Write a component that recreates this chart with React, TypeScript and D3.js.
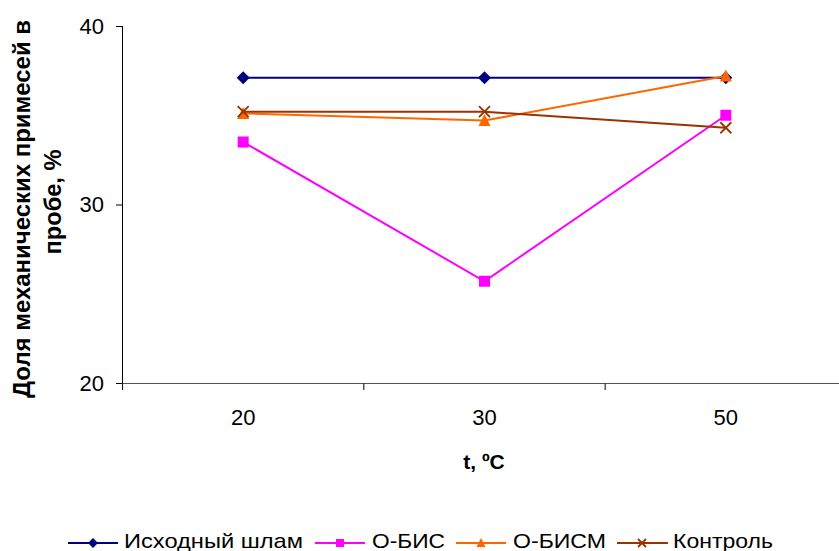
import React from "react";
import * as d3 from "d3";

const categories = ["20", "30", "50"];
const yTicks = [20, 30, 40];
const seriesNames = ["Исходный шлам", "О-БИС", "О-БИСМ", "Контроль"];
const ishodny = [37.1, 37.1, 37.1];
const obis = [33.5, 25.7, 35.0];
const obism = [35.1, 34.7, 37.2];
const kontrol = [35.2, 35.2, 34.3];
const colors = ["#000080", "#FF00FF", "#FF6600", "#993300"];
const markers = ["diamond", "square", "triangle", "x"];

const W = 839;
const H = 551;
const FONT = "Liberation Sans, Arial, sans-serif";

function Marker({ type, x, y, s, color }: { type: string; x: number; y: number; s: number; color: string }) {
  const h = s / 2;
  if (type === "diamond")
    return <path d={`M${x},${y - h - 1}L${x + h + 1},${y}L${x},${y + h + 1}L${x - h - 1},${y}Z`} fill={color} />;
  if (type === "square") return <rect x={x - h} y={y - h} width={s} height={s} fill={color} />;
  if (type === "triangle")
    return <path d={`M${x},${y - h - 1}L${x + h + 0.5},${y + h}L${x - h - 0.5},${y + h}Z`} fill={color} />;
  return (
    <path
      d={`M${x - h},${y - h}L${x + h},${y + h}M${x - h},${y + h}L${x + h},${y - h}`}
      stroke={color}
      strokeWidth={1.8}
      fill="none"
    />
  );
}

export default function App() {
  const x = d3.scaleBand<string>().domain(categories).range([122.5, 846.5]).padding(0);
  const y = d3.scaleLinear().domain([20, 40]).range([383, 26]);
  const cx = (c: string) => (x(c) as number) + x.bandwidth() / 2;
  const data = [ishodny, obis, obism, kontrol];
  const line = d3
    .line<number>()
    .x((_, i) => cx(categories[i]))
    .y((d) => y(d));

  const bounds = [...categories.map((c) => x(c) as number), (x(categories[categories.length - 1]) as number) + x.bandwidth()];

  const legend = [
    { lx1: 68, lx2: 118, mx: 93, tx: 124, tw: 179 },
    { lx1: 315, lx2: 365, mx: 340, tx: 372, tw: 73 },
    { lx1: 456, lx2: 506, mx: 481, tx: 513, tw: 93 },
    { lx1: 617, lx2: 668, mx: 642, tx: 673, tw: 100 },
  ];
  const ly = 543;

  return (
    <svg width={W} height={H} style={{ position: "absolute", left: 0, top: 0, background: "#fff" }} fontFamily={FONT}>
      <rect x={0} y={0} width={W} height={H} fill="#fff" />
      <line x1={122.5} y1={26} x2={122.5} y2={383.5} stroke="#000" strokeWidth={1} />
      <line x1={122.5} y1={383.5} x2={850} y2={383.5} stroke="#555" strokeWidth={1.2} />
      {yTicks.map((t) => (
        <g key={t}>
          <line x1={116} x2={122.5} y1={y(t) + 0.5} y2={y(t) + 0.5} stroke="#000" />
          <text x={104} y={y(t)} dy="0.36em" textAnchor="end" fontSize={22}>
            {t}
          </text>
        </g>
      ))}
      {bounds.map((b, i) => (
        <line key={i} x1={b} x2={b} y1={383.5} y2={390} stroke="#000" />
      ))}
      {categories.map((c) => (
        <text key={c} x={cx(c)} y={417} dy="0.36em" textAnchor="middle" fontSize={22}>
          {c}
        </text>
      ))}
      <text x={484} y={461} dy="0.36em" textAnchor="middle" fontSize={21} fontWeight="bold">
        t, ºC
      </text>
      <text transform="translate(30,209) rotate(-90)" textAnchor="middle" fontSize={23} fontWeight="bold" textLength={378} lengthAdjust="spacingAndGlyphs">
        Доля механических примесей в
      </text>
      <text transform="translate(61,202) rotate(-90)" textAnchor="middle" fontSize={23} fontWeight="bold" textLength={105} lengthAdjust="spacingAndGlyphs">
        пробе, %
      </text>
      {data.map((vals, si) => (
        <g key={si}>
          <path d={line(vals) || ""} fill="none" stroke={colors[si]} strokeWidth={2} />
          {vals.map((v, i) => (
            <Marker key={i} type={markers[si]} x={cx(categories[i])} y={y(v)} s={11} color={colors[si]} />
          ))}
        </g>
      ))}
      {seriesNames.map((n, i) => (
        <g key={n}>
          <line x1={legend[i].lx1} x2={legend[i].lx2} y1={ly} y2={ly} stroke={colors[i]} strokeWidth={2} />
          <Marker type={markers[i]} x={legend[i].mx} y={ly} s={8} color={colors[i]} />
          <text x={legend[i].tx} y={548} fontSize={21} textLength={legend[i].tw} lengthAdjust="spacingAndGlyphs">
            {n}
          </text>
        </g>
      ))}
    </svg>
  );
}
